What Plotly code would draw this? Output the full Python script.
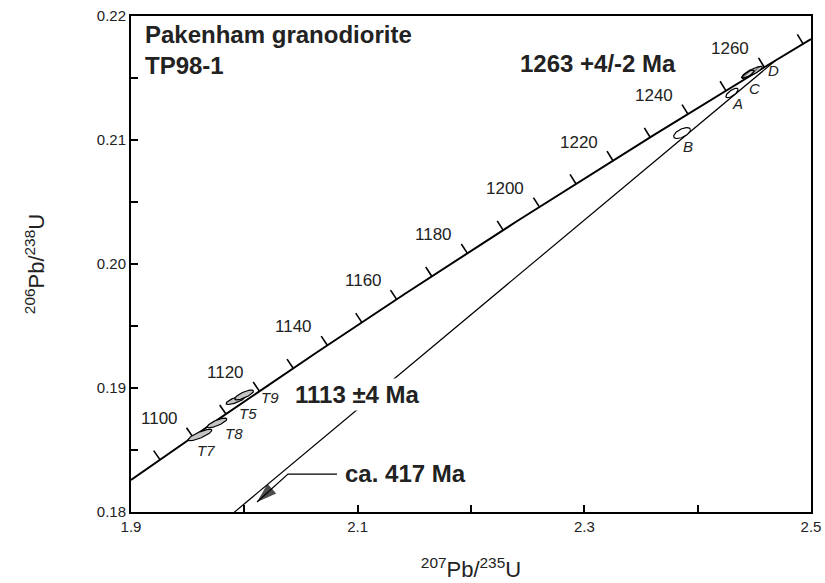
import numpy as np
import plotly.graph_objects as go

# ---------------- data ----------------
LAMBDA_238 = 1.55125e-4   # 1/Ma
LAMBDA_235 = 9.8485e-4    # 1/Ma

concordia_tick_ages = [1090, 1100, 1110, 1120, 1130, 1140, 1150, 1160, 1170, 1180,
                       1190, 1200, 1210, 1220, 1230, 1240, 1250, 1260, 1270]
concordia_label_ages = [1100, 1120, 1140, 1160, 1180, 1200, 1220, 1240, 1260]

sample_names = ["T7", "T8", "T5", "T9", "B", "A", "D", "C"]
pb207_u235 = [1.9609, 1.9759, 1.9925, 1.9998, 2.3862, 2.4303, 2.4480, 2.4444]
pb206_u238 = [0.18621, 0.18718, 0.18903, 0.18944, 0.21056, 0.21379, 0.21548, 0.21530]
err_207_235 = [0.0105, 0.0087, 0.0086, 0.0083, 0.0074, 0.0054, 0.0090, 0.0056]
err_206_238 = [0.00046, 0.00039, 0.00036, 0.00040, 0.00044, 0.00038, 0.00046, 0.00034]
err_corr = [0.82, 0.80, 0.78, 0.78, 0.60, 0.72, 0.85, 0.82]

upper_intercept_ma = 1263
lower_intercept_ma = 417

# ---------------- styles / layout ----------------
W, H = 825, 583            # body margin removed below, so the figure fills the window
ML, MR, MT, MB = 131, 14, 16, 71
XR = [1.9, 2.5]
YR = [0.18, 0.22]
FONT = "Liberation Sans, Arial, Helvetica, sans-serif"
INK = "#222"
sample_fill = {"T7": "#c4c4c4", "T8": "#c4c4c4", "T5": "#c4c4c4", "T9": "#c4c4c4",
               "B": "white", "A": "white", "D": "#bdbdbd", "C": "rgba(255,255,255,0)"}
label_shift = {"T7": (6, -15), "T8": (17, -11), "T5": (12, -13), "T9": (26, -3),
               "A": (5, -10), "B": (6, -13), "C": (7, -14), "D": (21, 2)}

# leader (text end -> elbow -> arrow tip) for the "ca. 417 Ma" note
leader_x = [2.0818, 2.0385, 2.0112]
leader_y = [0.18306, 0.18306, 0.18081]

sx = (W - ML - MR) / (XR[1] - XR[0])   # px per x unit
sy = (H - MT - MB) / (YR[1] - YR[0])   # px per y unit


def conc(t):
    t = np.asarray(t, dtype=float)
    return np.exp(LAMBDA_235 * t) - 1.0, np.exp(LAMBDA_238 * t) - 1.0


fig = go.Figure()

# concordia curve, limited to the x range of the axes
t_lo = np.log(1 + XR[0]) / LAMBDA_235
t_hi = np.log(1 + XR[1]) / LAMBDA_235
ages = np.linspace(t_lo, t_hi, 300)
cx, cy = conc(ages)
fig.add_trace(go.Scatter(x=cx, y=cy, mode="lines", line=dict(color="black", width=2),
                         hoverinfo="skip", showlegend=False))

# concordia age ticks (perpendicular, up-left side)
tick_len = 11
tx, ty = [], []
for a in concordia_tick_ages:
    x0, y0 = conc(a)
    dx = LAMBDA_235 * np.exp(LAMBDA_235 * a) * sx
    dy = -LAMBDA_238 * np.exp(LAMBDA_238 * a) * sy
    n = np.hypot(dx, dy)
    nx, ny = dy / n, -dx / n          # screen normal pointing up-left
    x1 = x0 + nx * tick_len / sx
    y1 = y0 - ny * tick_len / sy
    tx += [float(x0), float(x1), None]
    ty += [float(y0), float(y1), None]
fig.add_trace(go.Scatter(x=tx, y=ty, mode="lines", line=dict(color="black", width=1.6),
                         hoverinfo="skip", showlegend=False))

# discordia line (upper to lower intercept)
ux, uy = conc(upper_intercept_ma)
lx, ly = conc(lower_intercept_ma)
fig.add_trace(go.Scatter(x=[float(ux), float(lx)], y=[float(uy), float(ly)], mode="lines",
                         line=dict(color="black", width=1.2), hoverinfo="skip", showlegend=False))

# error ellipses
theta = np.linspace(0, 2 * np.pi, 80)
for name, x0, y0, ex, ey, r in zip(sample_names, pb207_u235, pb206_u238,
                                   err_207_235, err_206_238, err_corr):
    ex_pts = x0 + ex * np.cos(theta)
    ey_pts = y0 + ey * (r * np.cos(theta) + np.sqrt(1 - r * r) * np.sin(theta))
    kw = {}
    if name == "D":
        kw["fillpattern"] = dict(shape="/", fgcolor="black", bgcolor="#d9d9d9", size=4, solidity=0.4)
    fig.add_trace(go.Scatter(x=ex_pts, y=ey_pts, mode="lines", fill="toself",
                             fillcolor=sample_fill[name], line=dict(color="black", width=1.2),
                             name=name, showlegend=False, **kw))
    dxs, dys = label_shift[name]
    fig.add_annotation(x=x0, y=y0, text=name, showarrow=False,
                       xshift=dxs, yshift=dys,
                       font=dict(family=FONT, size=15, color=INK, style="italic"))

# concordia age labels
for a in concordia_label_ages:
    x0, y0 = conc(a)
    fig.add_annotation(x=float(x0), y=float(y0), text=str(a), showarrow=False,
                       xanchor="right", yanchor="bottom", xshift=-13, yshift=7,
                       font=dict(family=FONT, size=17, color=INK))

# text blocks
bold = dict(family=FONT, size=24, color=INK, weight="bold")
fig.add_annotation(xref="paper", yref="paper", x=0.0176, y=0.9617, text="Pakenham granodiorite",
                   showarrow=False, xanchor="left", yanchor="middle", font=bold)
fig.add_annotation(xref="paper", yref="paper", x=0.0176, y=0.9012, text="TP98-1",
                   showarrow=False, xanchor="left", yanchor="middle", font=bold)
fig.add_annotation(xref="paper", yref="paper", x=0.6868, y=0.9052, text="1263 +4/-2 Ma",
                   showarrow=False, xanchor="center", yanchor="middle", font=bold)
fig.add_annotation(xref="paper", yref="paper", x=0.3324, y=0.2379, text="1113 ±4 Ma",
                   showarrow=False, xanchor="center", yanchor="middle", font=bold,
                   bgcolor="white", borderpad=2)
fig.add_annotation(xref="paper", yref="paper", x=0.3118, y=0.0786, text="ca. 417 Ma",
                   showarrow=False, xanchor="left", yanchor="middle", font=bold)

# leader line with arrowhead
fig.add_trace(go.Scatter(x=leader_x, y=leader_y, mode="lines+markers",
                         line=dict(color="black", width=1.2),
                         marker=dict(symbol=["circle", "circle", "arrow"], size=[0, 0, 21],
                                     angleref="previous", color="black",
                                     line=dict(width=0)),
                         hoverinfo="skip", showlegend=False, cliponaxis=False))

axis_common = dict(showline=True, linecolor="black", linewidth=2, mirror=True,
                   ticks="inside", ticklen=7, tickwidth=1.5, tickcolor="black",
                   showgrid=False, zeroline=False, automargin=False,
                   ticklabeloverflow="allow",
                   tickfont=dict(family=FONT, size=15, color=INK))
fig.update_xaxes(range=XR, tick0=1.9, dtick=0.2, tickformat=".1f",
                 minor=dict(tick0=1.9, dtick=0.1, ticks="inside", ticklen=7, tickwidth=1.5,
                            tickcolor="black", showgrid=False),
                 title=dict(text="<sup>207</sup>Pb/<sup>235</sup>U", standoff=28,
                            font=dict(family=FONT, size=22, color=INK)),
                 **axis_common)
fig.update_yaxes(range=YR, tick0=0.18, dtick=0.01, tickformat=".2f",
                 minor=dict(tick0=0.18, dtick=0.005, ticks="inside", ticklen=7, tickwidth=1.5,
                            tickcolor="black", showgrid=False),
                 title=dict(text="<sup>206</sup>Pb/<sup>238</sup>U", standoff=46,
                            font=dict(family=FONT, size=22, color=INK)),
                 **axis_common)

fig.update_layout(width=W, height=H, margin=dict(l=ML, r=MR, t=MT, b=MB),
                  plot_bgcolor="white", paper_bgcolor="white", showlegend=False)

fig.write_html("out.html", config={"displayModeBar": False},
               post_script="document.body.style.margin='0';document.body.style.overflow='hidden';")
